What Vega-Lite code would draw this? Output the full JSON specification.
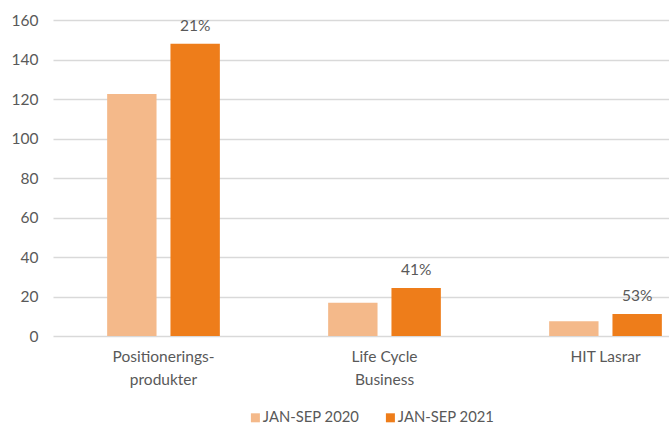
{
  "$schema": "https://vega.github.io/schema/vega-lite/v6.json",
  "width": 616,
  "height": 316,
  "autosize": {"type": "none"},
  "padding": {"left": 53, "top": 20, "right": 0, "bottom": 89},
  "background": "white",
  "config": {
    "font": "Lato",
    "view": {"stroke": null}
  },
  "data": {
    "values": [
      {"kategori": "Positioneringsprodukter", "period": "JAN-SEP 2020", "varde": 122.5, "tillvaxt": ""},
      {"kategori": "Positioneringsprodukter", "period": "JAN-SEP 2021", "varde": 148, "tillvaxt": "21%"},
      {"kategori": "Life Cycle Business", "period": "JAN-SEP 2020", "varde": 16.8, "tillvaxt": ""},
      {"kategori": "Life Cycle Business", "period": "JAN-SEP 2021", "varde": 24.3, "tillvaxt": "41%"},
      {"kategori": "HIT Lasrar", "period": "JAN-SEP 2020", "varde": 7.5, "tillvaxt": ""},
      {"kategori": "HIT Lasrar", "period": "JAN-SEP 2021", "varde": 11.2, "tillvaxt": "53%"}
    ]
  },
  "encoding": {
    "x": {
      "field": "kategori",
      "type": "nominal",
      "sort": ["Positioneringsprodukter", "Life Cycle Business", "HIT Lasrar"],
      "scale": {"range": [0, 663], "paddingInner": 0.49, "paddingOuter": 0.245},
      "axis": {
        "title": null,
        "domain": false,
        "ticks": false,
        "labelAngle": 0,
        "labelPadding": 13,
        "labelFontSize": 15.5,
        "labelColor": "#595959",
        "labelLineHeight": 23,
        "labelExpr": "datum.label == 'Positioneringsprodukter' ? ['Positionerings-', 'produkter'] : datum.label == 'Life Cycle Business' ? ['Life Cycle', 'Business'] : datum.label"
      }
    },
    "xOffset": {
      "field": "period",
      "type": "nominal",
      "scale": {"paddingInner": 0.22, "paddingOuter": 0}
    },
    "y": {
      "field": "varde",
      "type": "quantitative",
      "scale": {"domain": [0, 160], "nice": false},
      "axis": {
        "title": null,
        "domain": false,
        "ticks": false,
        "values": [0, 20, 40, 60, 80, 100, 120, 140, 160],
        "gridColor": "#d9d9d9",
        "gridWidth": 1.3,
        "labelFontSize": 15.5,
        "labelColor": "#595959",
        "labelPadding": 15
      }
    }
  },
  "layer": [
    {
      "mark": {"type": "bar"},
      "encoding": {
        "color": {
          "field": "period",
          "type": "nominal",
          "scale": {"domain": ["JAN-SEP 2020", "JAN-SEP 2021"], "range": ["#F4B98A", "#EE7D1A"]},
          "legend": {
            "title": null,
            "orient": "none",
            "direction": "horizontal",
            "legendX": 195,
            "legendY": 390,
            "symbolType": "square",
            "symbolSize": 81,
            "symbolStrokeWidth": 0,
            "labelFontSize": 14.8,
            "labelColor": "#595959",
            "labelOffset": 0,
            "columnPadding": 23
          }
        }
      }
    },
    {
      "mark": {"type": "text", "baseline": "middle", "dy": -18, "fontSize": 15.5, "color": "#595959"},
      "encoding": {
        "text": {"field": "tillvaxt", "type": "nominal"}
      }
    }
  ]
}
